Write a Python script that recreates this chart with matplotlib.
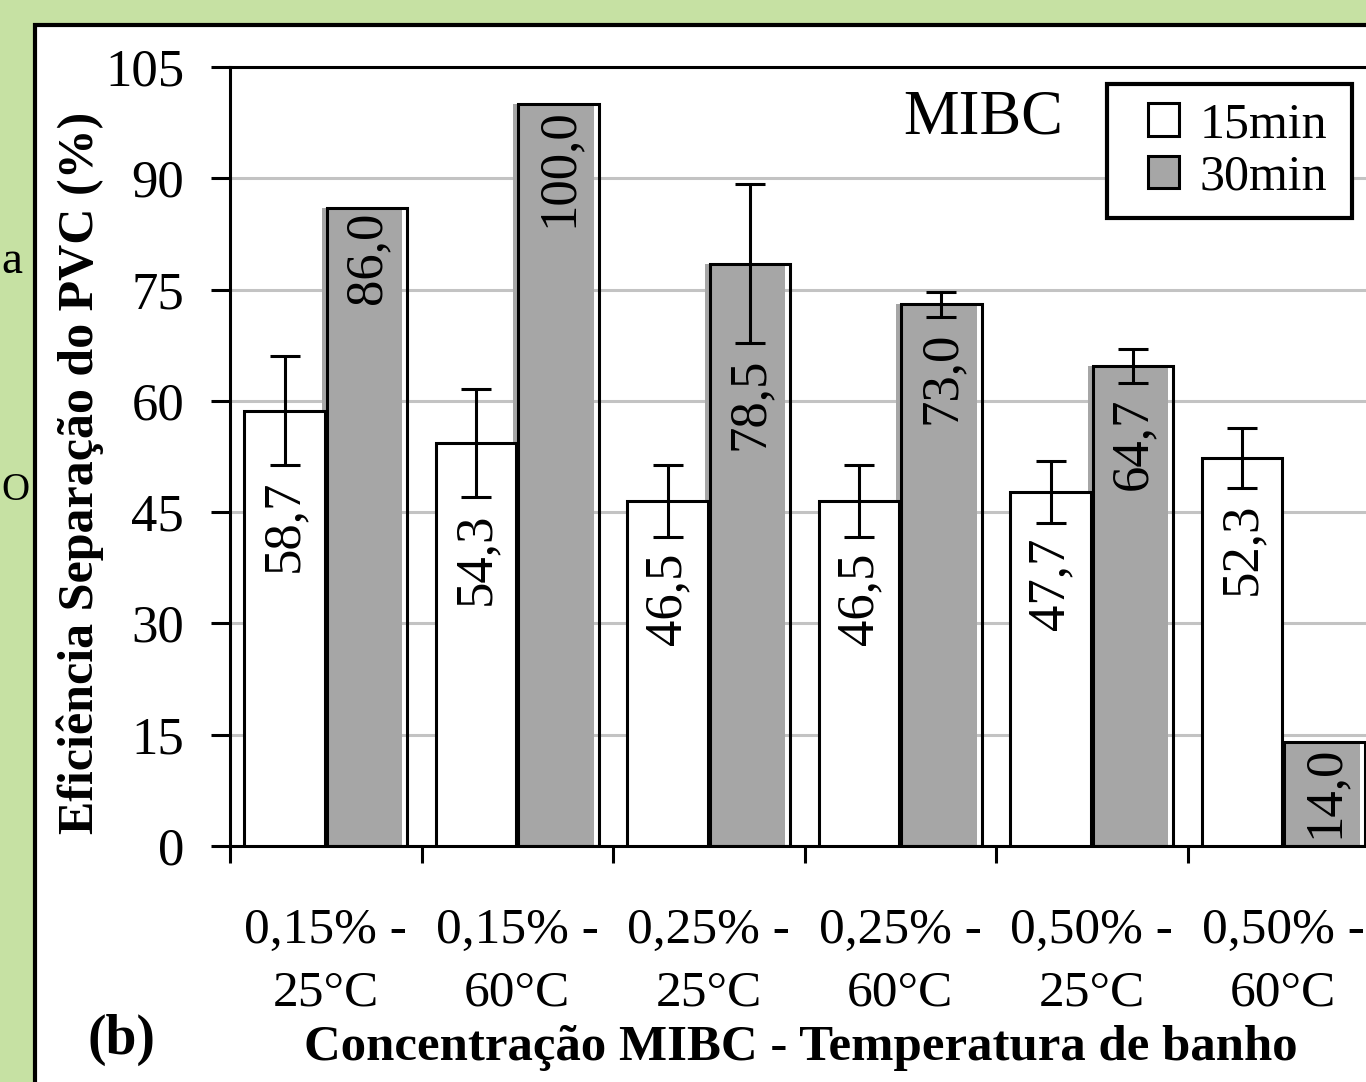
import numpy as np
import matplotlib
matplotlib.use("Agg")
import matplotlib.pyplot as plt
from matplotlib.patches import Rectangle, Patch

plt.rcParams['font.family'] = ['Liberation Serif', 'DejaVu Serif']

# dados
categorias = ["0,15% -\n25°C", "0,15% -\n60°C", "0,25% -\n25°C",
              "0,25% -\n60°C", "0,50% -\n25°C", "0,50% -\n60°C"]
val_15 = [58.7, 54.3, 46.5, 46.5, 47.7, 52.3]
val_30 = [86.0, 100.0, 78.5, 73.0, 64.7, 14.0]
err_15 = [7.3, 7.3, 4.9, 4.9, 4.2, 4.0]
err_30 = [0.0, 0.0, 10.7, 1.7, 2.3, 0.0]
yticks = [0, 15, 30, 45, 60, 75, 90, 105]

W, H = 1366, 1082
fig = plt.figure(figsize=(W / 100, H / 100), dpi=100, facecolor="#c6e1a3")

# painel branco com borda
fig.patches.append(Rectangle((35 / W, -0.1), 1.2, 1 - 25 / H + 0.1, transform=fig.transFigure,
                             facecolor="white", edgecolor="black", lw=3, zorder=-5))

# letras do painel ao lado (no original aparecem cortadas)
fig.text(1 / W, 1 - 262 / H, "a", ha="left", va="center", fontsize=34)
fig.text(1 / W, 1 - 490 / H, "O", ha="left", va="center", fontsize=28)

ax = fig.add_axes([230 / W, 1 - 846 / H, 1149 / W, 779 / H])
ax.set_facecolor("none")

x = np.arange(len(categorias))
larg = 0.42
desl = 0.215
cinza = "#a6a6a6"

# barras 15min
ax.bar(x - desl, val_15, larg, color="white", edgecolor="black", lw=2.2, zorder=3)
# barras 30min (preenchimento levemente deslocado como no original)
ax.bar(x + desl - 0.025, val_30, larg, color=cinza, lw=0, zorder=2.5)
ax.bar(x + desl, val_30, larg, color="none", edgecolor="black", lw=2.2, zorder=3)

for serie, vals, errs in [(x - desl, val_15, err_15), (x + desl, val_30, err_30)]:
    vals = np.array(vals)
    errs = np.array(errs)
    m = errs > 0
    ax.errorbar(serie[m], vals[m], yerr=errs[m], fmt="none", ecolor="black",
                elinewidth=2.2, capsize=11, capthick=2.2, zorder=4)
    for xi, v, e in zip(serie, vals, errs):
        topo = v - e - 2 if e > 0 else v - 0.5
        ax.text(xi, topo, f"{v:.1f}".replace(".", ","), rotation=90, ha="center",
                va="top", fontsize=38, zorder=5)

ax.set_ylim(0, 105)
ax.set_xlim(-0.5, len(categorias) - 0.5)
ax.set_yticks(yticks)
ax.set_yticklabels([str(t) for t in yticks], fontsize=38)
ax.yaxis.grid(True, color="#c3c3c3", lw=2.2, zorder=0)
ax.set_axisbelow(True)

ax.set_xticks(np.arange(len(categorias) + 1) - 0.5)
ax.set_xticklabels([])
ax.set_xticks(x, minor=True)
ax.set_xticklabels(categorias, minor=True, fontsize=37, linespacing=1.45)
ax.tick_params(axis="x", which="major", length=12, width=2.2, direction="out")
ax.tick_params(axis="x", which="minor", length=0, pad=44)
ax.tick_params(axis="y", length=14, width=2.2, direction="out", pad=19)

for s in ax.spines.values():
    s.set_linewidth(2.2)
    s.set_color("black")

ax.text(0.586, 0.934, "MIBC", transform=ax.transAxes, fontsize=45, ha="left", va="center")

# legenda com moldura própria
ax.add_patch(Rectangle((1107 / W, 1 - 218 / H), 245 / W, 134 / H, transform=fig.transFigure,
                       facecolor="white", edgecolor="black", lw=3, zorder=6, clip_on=False))
handles = [Patch(facecolor="white", edgecolor="black", lw=2.2),
           Patch(facecolor=cinza, edgecolor="black", lw=2.2)]
leg = ax.legend(handles, ["15min", "30min"], loc="center right",
                bbox_to_anchor=(1327 / W, 1 - 151 / H), bbox_transform=fig.transFigure,
                fontsize=36, frameon=False, handlelength=0.62, handleheight=0.62,
                handletextpad=0.4, borderpad=0, labelspacing=0.12, borderaxespad=0)
leg.set_zorder(7)

fig.text(80 / W, 1 - 473 / H, "Eficiência Separação do PVC (%)", rotation=90,
         ha="center", va="center", fontsize=36, fontweight="bold")
fig.text(801 / W, 1 - 1048 / H, "Concentração MIBC - Temperatura de banho",
         ha="center", va="center", fontsize=36.6, fontweight="bold")
fig.text(122 / W, 1 - 1040 / H, "(b)", ha="center", va="center", fontsize=40, fontweight="bold")

fig.savefig("out.png", dpi=100, facecolor=fig.get_facecolor())
